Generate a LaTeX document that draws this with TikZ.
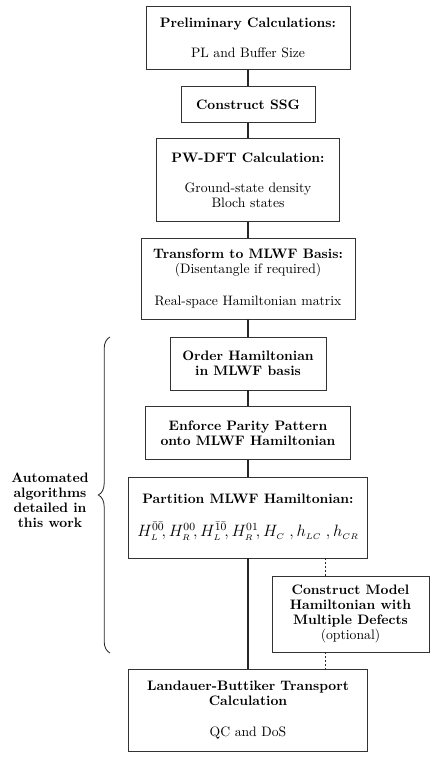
\documentclass[tikz,border=0pt]{standalone}
\usetikzlibrary{decorations.pathreplacing}
\begin{document}
\begin{tikzpicture}[x=0.73pt,y=-0.73pt,
  box/.style={draw=black!80,line width=0.7pt,align=center,inner sep=0pt,
    font=\fontsize{10}{11}\selectfont},
  link/.style={line width=1.3pt,draw=black!85},
  optlink/.style={line width=0.9pt,draw=black!85,dotted},
  bracestyle/.style={draw=black!85,line width=0.6pt,
    decorate,decoration={brace,amplitude=8.5pt}}]
\useasboundingbox (0,0) rectangle (436,757);
\node[box,minimum width=148.9pt,minimum height=46pt] (b1) at (248,37.5)
  {\textbf{Preliminary Calculations:}\\[11pt] PL and Buffer Size};
\node[box,minimum width=97.8pt,minimum height=25.6pt] (b2) at (248,104.5)
  {\textbf{Construct SSG}};
\node[box,minimum width=132.9pt,minimum height=59.9pt] (b3) at (248,180)
  {\textbf{PW-DFT Calculation:}\\[11pt] Ground-state density\\ Bloch states};
\node[box,minimum width=156.2pt,minimum height=59.1pt] (b4) at (248,278.5)
  {\textbf{Transform to MLWF Basis:}\\ (Disentangle if required)\\[12pt] Real-space Hamiltonian matrix};
\node[box,minimum width=113.9pt,minimum height=38.7pt] (b5) at (248,363.5)
  {\textbf{Order Hamiltonian}\\ \textbf{in MLWF basis}};
\node[box,minimum width=149.7pt,minimum height=38pt] (b6) at (248,433)
  {\textbf{Enforce Parity Pattern}\\ \textbf{onto MLWF Hamiltonian}};
\node[box,minimum width=174.5pt,minimum height=59.1pt] (b7) at (248,517.5)
  {\textbf{Partition MLWF Hamiltonian:}\\[13pt]
   {\large $H_{\scriptscriptstyle L}^{\bar0\bar0}\!,H_{\scriptscriptstyle R}^{00}\!,H_{\scriptscriptstyle L}^{\bar1\bar0}\!,H_{\scriptscriptstyle R}^{01}\!,H_{\scriptscriptstyle C}\;,h_{\scriptscriptstyle LC}\;,h_{\scriptscriptstyle CR}$}};
\node[box,minimum width=114.6pt,minimum height=55.5pt] (b8) at (350.5,614)
  {\textbf{Construct Model}\\ \textbf{Hamiltonian with}\\ \textbf{Multiple Defects}\\ (optional)};
\node[box,minimum width=174.5pt,minimum height=59.9pt] (b9) at (248,710)
  {\textbf{Landauer-Buttiker Transport}\\ \textbf{Calculation}\\[11pt] QC and DoS};
\node[align=center,inner sep=0pt,font=\fontsize{10}{11}\selectfont\bfseries] (note) at (50,500)
  {Automated\\ algorithms\\ detailed in\\ this work};
\coordinate (dx) at (325.5,0);
\coordinate (bt) at (110,653);
\coordinate (bb) at (110,337);
\draw[link] (b1) -- (b2);
\draw[link] (b2) -- (b3);
\draw[link] (b3) -- (b4);
\draw[link] (b4) -- (b5);
\draw[link] (b5) -- (b6);
\draw[link] (b6) -- (b7);
\draw[link] (b7) -- (b9);
\draw[optlink] (b7.south -| dx) -- (b8.north -| dx);
\draw[optlink] (b8.south -| dx) -- (b9.north -| dx);
\draw[bracestyle] (bt) -- (bb);
\end{tikzpicture}
\end{document}
